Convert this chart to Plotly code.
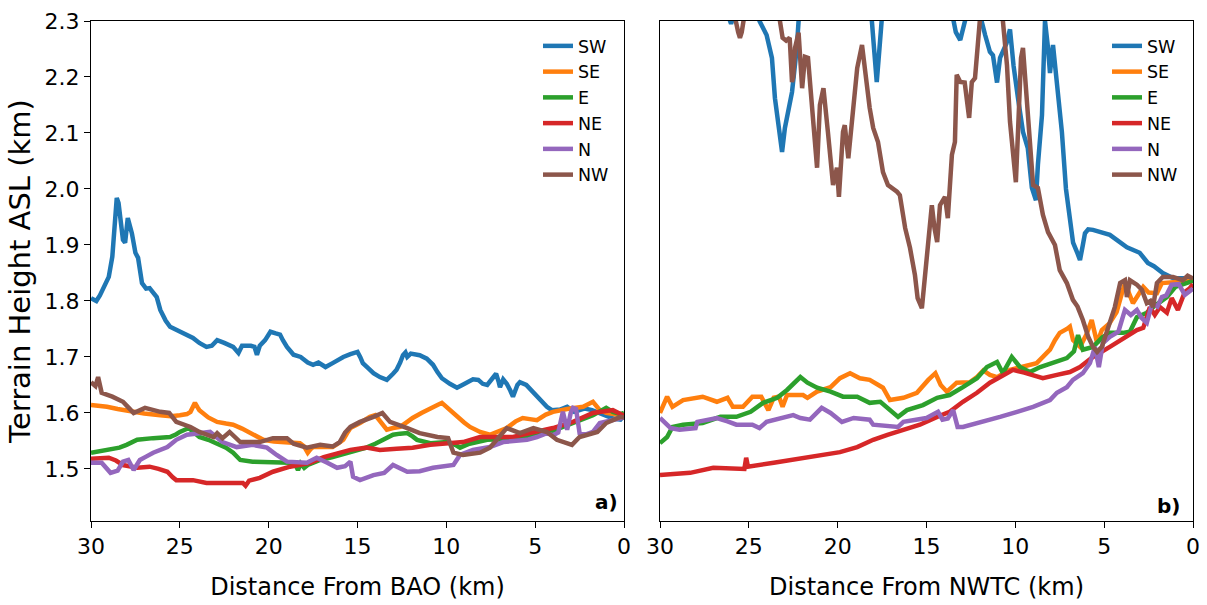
import plotly.graph_objects as go

# ---------------- data (distance km, terrain height km) ----------------
names = ["SW", "SE", "E", "NE", "N", "NW"]
colors = ["#1f77b4", "#ff7f0e", "#2ca02c", "#d62728", "#9467bd", "#8c564b"]
x_ticks = [30, 25, 20, 15, 10, 5, 0]
y_ticks = [1.5, 1.6, 1.7, 1.8, 1.9, 2.0, 2.1, 2.2, 2.3]

bao_sw = [(30,1.805),(29.7,1.80),(29.5,1.81),(29.3,1.825),(29.0,1.843),(28.8,1.879),(28.65,1.95),(28.55,1.984),
          (28.45,1.975),(28.37,1.957),(28.2,1.909),(28.08,1.904),(27.93,1.948),(27.7,1.921),(27.5,1.886),(27.35,1.877),
          (27.13,1.832),(26.9,1.822),(26.7,1.823),(26.5,1.815),(26.3,1.807),(26.1,1.784),(25.8,1.765),(25.55,1.754),
          (25.0,1.745),(24.6,1.74),(24.26,1.734),(23.9,1.725),(23.5,1.718),(23.2,1.72),(22.9,1.73),(22.5,1.725),
          (22.0,1.718),(21.7,1.707),(21.5,1.72),(21.0,1.72),(20.8,1.718),(20.66,1.704),(20.5,1.72),(20.2,1.73),
          (19.9,1.745),(19.6,1.742),(19.36,1.74),(19.2,1.73),(18.97,1.718),(18.6,1.704),(18.2,1.70),(17.8,1.69),
          (17.5,1.686),(17.2,1.69),(16.8,1.682),(16.4,1.689),(16.1,1.695),(15.8,1.70),(15.4,1.705),(15.0,1.709),
          (14.85,1.70),(14.7,1.689),(14.4,1.68),(14.1,1.671),(13.74,1.664),(13.35,1.659),(13.0,1.67),(12.8,1.677),
          (12.6,1.69),(12.44,1.703),(12.3,1.708),(12.2,1.70),(12.0,1.706),(11.5,1.703),(11.1,1.697),(10.75,1.686),
          (10.5,1.673),(10.25,1.662),(9.8,1.652),(9.4,1.645),(9.1,1.65),(8.84,1.655),(8.5,1.66),(8.2,1.659),
          (7.95,1.652),(7.7,1.65),(7.45,1.66),(7.2,1.67),(7.05,1.655),(6.98,1.646),(6.8,1.66),(6.6,1.652),
          (6.4,1.64),(6.25,1.629),(6.0,1.65),(5.86,1.655),(5.5,1.65),(5.2,1.64),(4.9,1.629),(4.6,1.618),
          (4.34,1.611),(4.06,1.605),(3.6,1.606),(3.2,1.611),(2.8,1.602),(2.5,1.605),(2.2,1.608),(1.8,1.605),
          (1.4,1.60),(1.0,1.596),(0.6,1.59),(0.2,1.588),(0,1.595)]
bao_se = [(30,1.614),(29.5,1.613),(29.1,1.611),(28.5,1.607),(27.6,1.602),(27.0,1.599),(26.1,1.596),(25.5,1.594),
          (25.0,1.596),(24.6,1.598),(24.4,1.602),(24.25,1.615),(24.15,1.618),(24.0,1.61),(23.9,1.605),(23.4,1.592),
          (22.9,1.584),(22.4,1.581),(22.0,1.579),(21.5,1.572),(21.05,1.564),(20.6,1.558),(20.3,1.552),(19.7,1.549),
          (19.2,1.548),(18.7,1.547),(18.24,1.546),(18.0,1.54),(17.8,1.529),(17.65,1.535),(17.5,1.539),(17.0,1.539),
          (16.4,1.539),(16.1,1.545),(15.8,1.552),(15.6,1.563),(15.4,1.573),(14.86,1.582),(14.6,1.587),(14.3,1.593),
          (14.0,1.596),(13.8,1.588),(13.57,1.579),(13.35,1.57),(13.0,1.573),(12.6,1.575),(12.2,1.584),(11.9,1.591),
          (11.4,1.6),(10.9,1.609),(10.5,1.614),(10.25,1.618),(9.8,1.605),(9.4,1.593),(9.0,1.583),(8.67,1.575),
          (8.1,1.566),(7.55,1.561),(7.1,1.566),(6.6,1.573),(6.1,1.585),(5.7,1.591),(5.3,1.589),(4.9,1.587),
          (4.4,1.597),(4.0,1.602),(3.2,1.607),(2.3,1.611),(1.75,1.62),(1.36,1.605),(1.0,1.6),(0.6,1.598),
          (0.2,1.596),(0,1.598)]
bao_e = [(30,1.529),(29.4,1.532),(28.9,1.534),(28.4,1.538),(28.0,1.543),(27.4,1.552),(26.5,1.555),(25.55,1.557),
         (25.2,1.562),(25.0,1.566),(24.5,1.573),(24.2,1.565),(23.9,1.557),(23.4,1.552),(22.9,1.546),(22.4,1.538),
         (22.0,1.529),(21.6,1.516),(20.9,1.513),(19.76,1.513),(18.8,1.511),(18.5,1.508),(18.35,1.498),(18.2,1.51),
         (18.0,1.502),(17.8,1.507),(17.1,1.516),(16.4,1.521),(15.4,1.529),(14.5,1.538),(14.0,1.545),(13.57,1.552),
         (13.0,1.561),(12.6,1.563),(12.2,1.564),(11.9,1.558),(11.65,1.552),(10.9,1.546),(9.97,1.548),(9.5,1.543),
         (9.23,1.538),(8.7,1.545),(7.7,1.552),(7.0,1.553),(6.25,1.552),(5.3,1.557),(4.34,1.564),(3.44,1.575),
         (2.5,1.587),(1.75,1.596),(1.0,1.609),(0.63,1.602),(0.2,1.598),(0,1.6)]
bao_ne = [(30,1.518),(29.0,1.52),(28.6,1.515),(28.2,1.507),(27.4,1.502),(26.7,1.504),(26.2,1.5),(25.7,1.495),
          (25.4,1.485),(25.2,1.48),(24.26,1.48),(23.5,1.475),(22.35,1.475),(21.7,1.476),(21.45,1.475),(21.3,1.47),
          (21.1,1.479),(20.5,1.484),(19.76,1.495),(18.8,1.504),(17.67,1.511),(16.9,1.521),(16.2,1.528),(15.4,1.534),
          (14.5,1.538),(13.74,1.534),(12.8,1.536),(11.9,1.538),(10.9,1.543),(9.97,1.546),(9.06,1.548),(8.1,1.557),
          (6.25,1.557),(5.3,1.564),(4.0,1.573),(2.87,1.584),(1.75,1.6),(0.63,1.605),(0,1.595)]
bao_n = [(30,1.511),(29.4,1.511),(28.9,1.493),(28.5,1.497),(28.2,1.513),(27.9,1.516),(27.6,1.498),(27.25,1.516),
         (26.9,1.522),(26.5,1.529),(25.7,1.539),(25.2,1.552),(24.6,1.561),(23.9,1.564),(23.3,1.566),(22.6,1.548),
         (21.8,1.539),(20.9,1.543),(20.1,1.538),(19.55,1.525),(18.97,1.513),(17.85,1.511),(17.3,1.52),(16.7,1.511),
         (16.15,1.502),(15.7,1.505),(15.4,1.513),(15.25,1.486),(14.86,1.48),(14.1,1.489),(13.5,1.493),(13.0,1.507),
         (12.6,1.50),(12.2,1.495),(11.5,1.496),(10.75,1.502),(9.6,1.507),(9.23,1.525),(8.5,1.534),(7.55,1.539),
         (6.8,1.548),(6.1,1.55),(5.46,1.552),(4.9,1.557),(4.34,1.564),(4.0,1.56),(3.7,1.565),(3.44,1.602),
         (3.3,1.585),(3.2,1.57),(3.0,1.6),(2.87,1.609),(2.7,1.607),(2.5,1.564),(2.1,1.562),(1.75,1.566),
         (1.36,1.582),(0.63,1.587),(0,1.592)]
bao_nw = [(30,1.655),(29.75,1.648),(29.6,1.664),(29.4,1.636),(28.8,1.629),(28.2,1.62),(27.9,1.61),(27.6,1.6),
          (26.96,1.609),(26.5,1.605),(26.1,1.602),(25.6,1.6),(25.2,1.584),(24.4,1.575),(23.9,1.566),(23.1,1.557),
          (22.9,1.564),(22.6,1.555),(22.2,1.566),(21.6,1.548),(20.5,1.548),(19.76,1.555),(18.97,1.555),(18.6,1.545),
          (17.85,1.538),(17.1,1.543),(16.4,1.54),(16.0,1.548),(15.7,1.565),(15.4,1.575),(14.86,1.584),(14.1,1.593),
          (13.6,1.6),(13.17,1.584),(12.8,1.579),(12.2,1.573),(11.5,1.564),(10.5,1.557),(9.9,1.555),(9.6,1.529),
          (9.06,1.525),(8.1,1.529),(7.55,1.538),(6.6,1.573),(5.86,1.564),(5.1,1.573),(4.34,1.566),(3.78,1.552),
          (2.93,1.543),(2.5,1.557),(1.5,1.566),(1.0,1.582),(0.2,1.593),(0,1.592)]

nwtc_sw = [(30,2.5),(28,2.42),(26.5,2.34),(26.0,2.295),(25.85,2.31),(25.6,2.36),(25.0,2.4),(24.4,2.3),(24.0,2.275),
           (23.7,2.234),(23.53,2.162),(23.36,2.114),(23.13,2.066),(22.97,2.109),(22.57,2.173),(22.3,2.252),(22.2,2.3),
           (21.5,2.45),(20,2.5),(18.5,2.4),(18.1,2.31),(17.95,2.25),(17.8,2.191),(17.65,2.25),(17.5,2.31),(16.5,2.45),
           (15,2.4),(13.6,2.32),(13.35,2.28),(13.1,2.266),(12.9,2.29),(12.6,2.33),(12.1,2.31),(11.9,2.3),(11.7,2.275),
           (11.43,2.245),(11.26,2.239),(11.03,2.19),(10.86,2.234),(10.5,2.26),(10.3,2.285),(10.1,2.22),(9.85,2.162),
           (9.57,2.102),(9.3,2.073),(9.07,2.002),(8.84,1.98),(8.73,2.043),(8.5,2.132),(8.33,2.3),(8.16,2.252),
           (8.05,2.207),(7.88,2.257),(7.66,2.19),(7.38,2.102),(7.15,2.0),(6.95,1.95),(6.75,1.904),(6.5,1.885),
           (6.36,1.873),(6.2,1.9),(6.08,1.921),(5.9,1.928),(5.63,1.927),(4.68,1.918),(3.72,1.896),(3.0,1.886),
           (2.54,1.868),(2.2,1.862),(1.7,1.85),(1.13,1.841),(0.5,1.84),(0,1.84)]
nwtc_se = [(30,1.6),(29.6,1.629),(29.3,1.611),(28.7,1.623),(27.6,1.629),(26.8,1.62),(26.2,1.627),(25.9,1.611),
           (25.33,1.611),(24.8,1.629),(24.3,1.629),(23.9,1.605),(23.6,1.627),(23.3,1.629),(23.1,1.611),(22.85,1.632),
           (21.95,1.632),(21.7,1.627),(21.16,1.638),(20.4,1.646),(19.87,1.662),(19.3,1.671),(18.75,1.662),(18.2,1.659),
           (17.45,1.645),(17.06,1.623),(16.3,1.627),(15.54,1.636),(14.9,1.659),(14.5,1.671),(14.2,1.65),(13.85,1.638),
           (13.3,1.654),(12.55,1.655),(12.16,1.664),(11.8,1.676),(11.43,1.668),(11.03,1.664),(10.3,1.677),(9.57,1.682),
           (8.8,1.689),(8.45,1.70),(8.05,1.713),(7.77,1.73),(7.5,1.743),(7.1,1.75),(6.93,1.754),(6.75,1.73),
           (6.36,1.718),(6.0,1.74),(5.7,1.766),(5.4,1.725),(5.13,1.748),(4.7,1.76),(4.3,1.78),(4.0,1.814),
           (3.83,1.832),(3.38,1.796),(3.1,1.81),(2.8,1.825),(2.5,1.815),(2.03,1.814),(1.75,1.832),(1.13,1.834),
           (0.5,1.836),(0,1.836)]
nwtc_e = [(30,1.546),(29.6,1.557),(29.3,1.575),(28.7,1.579),(27.6,1.582),(26.6,1.593),(25.7,1.593),(24.9,1.602),
          (24.2,1.618),(23.4,1.627),(22.85,1.641),(22.4,1.655),(22.1,1.664),(21.7,1.654),(21.16,1.645),(20.4,1.638),
          (19.7,1.629),(18.9,1.629),(18.2,1.618),(17.6,1.62),(17.06,1.605),(16.6,1.593),(16.1,1.605),(15.2,1.614),
          (14.4,1.627),(13.7,1.632),(12.95,1.646),(12.16,1.662),(11.6,1.682),(11.03,1.691),(10.7,1.671),(10.2,1.70),
          (9.74,1.682),(9.18,1.673),(8.6,1.682),(7.88,1.689),(7.1,1.698),(6.7,1.71),(6.47,1.739),(6.2,1.713),
          (5.63,1.718),(5.1,1.735),(4.68,1.743),(3.95,1.743),(3.55,1.745),(3.16,1.771),(2.6,1.779),(2.25,1.789),
          (1.47,1.807),(1.0,1.825),(0.5,1.83),(0,1.836)]
nwtc_ne = [(30,1.489),(28.3,1.493),(27.0,1.502),(25.5,1.5),(25.25,1.5),(25.15,1.52),(25.05,1.504),(23.6,1.511),
           (21.7,1.52),(19.87,1.53),(18.9,1.539),(18.0,1.552),(17.2,1.561),(16.3,1.57),(15.37,1.579),(14.4,1.593),
           (13.7,1.602),(12.95,1.62),(12.16,1.636),(11.43,1.654),(11.0,1.662),(10.47,1.671),(10.13,1.677),(9.5,1.672),
           (8.8,1.664),(8.45,1.662),(7.66,1.668),(6.93,1.673),(6.36,1.682),(5.63,1.7),(4.68,1.718),(3.72,1.736),
           (3.16,1.748),(2.8,1.752),(2.43,1.789),(2.15,1.775),(1.86,1.789),(1.47,1.779),(1.2,1.805),(0.85,1.784),
           (0.46,1.816),(0.2,1.822),(0,1.83)]
nwtc_n = [(30,1.591),(29.4,1.573),(28.9,1.57),(28.0,1.573),(27.9,1.584),(26.8,1.591),(26.2,1.585),(25.7,1.579),
          (24.8,1.579),(24.4,1.573),(24.0,1.584),(23.25,1.591),(22.5,1.596),(22.1,1.591),(21.56,1.588),(20.9,1.609),
          (20.4,1.6),(19.76,1.584),(19.1,1.591),(18.2,1.588),(18.0,1.579),(16.6,1.575),(16.3,1.584),(15.0,1.591),
          (14.35,1.602),(14.1,1.588),(13.8,1.59),(13.5,1.605),(13.25,1.575),(12.95,1.575),(11.8,1.584),(10.86,1.593),
          (9.9,1.602),(9.0,1.611),(8.05,1.623),(7.66,1.636),(7.1,1.646),(6.76,1.659),(6.2,1.671),(5.8,1.689),
          (5.52,1.718),(5.3,1.682),(5.07,1.725),(4.68,1.736),(4.2,1.745),(3.83,1.784),(3.5,1.775),(3.16,1.784),
          (2.9,1.77),(2.6,1.761),(2.3,1.796),(2.0,1.79),(1.75,1.807),(1.5,1.81),(1.2,1.829),(0.8,1.83),
          (0.46,1.811),(0.1,1.82),(0,1.822)]
nwtc_nw = [(30,2.55),(28,2.45),(26.5,2.35),(25.8,2.31),(25.6,2.28),(25.5,2.27),(25.4,2.28),(25.2,2.32),(24.5,2.4),
           (23.5,2.35),(23.25,2.3),(23.1,2.27),(22.9,2.265),(22.7,2.27),(22.57,2.191),(22.5,2.2),(22.4,2.252),
           (22.2,2.279),(22.0,2.18),(21.84,2.236),(21.67,2.234),(21.45,2.138),(21.16,2.038),(21.0,2.15),(20.8,2.18),
           (20.55,2.102),(20.26,2.007),(20.04,2.038),(19.93,1.986),(19.7,2.102),(19.6,2.114),(19.4,2.055),(19.2,2.12),
           (18.9,2.216),(18.63,2.257),(18.46,2.209),(18.2,2.145),(18.0,2.109),(17.73,2.084),(17.45,2.03),(17.17,2.007),
           (16.66,1.995),(16.5,1.989),(16.2,1.93),(15.93,1.895),(15.65,1.846),(15.5,1.805),(15.26,1.787),(15.1,1.846),
           (14.9,1.918),(14.7,1.971),(14.55,1.93),(14.4,1.905),(14.24,1.971),(13.96,1.986),(13.8,1.948),(13.57,2.061),
           (13.4,2.084),(13.3,2.204),(13.1,2.191),(12.85,2.19),(12.6,2.127),(12.45,2.191),(12.27,2.198),(12.16,2.252),
           (12.0,2.3),(11.5,2.38),(11.0,2.35),(10.7,2.3),(10.47,2.221),(10.3,2.12),(10.13,2.061),(9.97,2.012),
           (9.85,2.102),(9.68,2.234),(9.57,2.252),(9.35,2.162),(9.18,2.073),(9.0,2.007),(8.73,2.002),(8.45,1.954),
           (8.16,1.923),(7.77,1.9),(7.5,1.855),(7.1,1.832),(6.76,1.802),(6.5,1.79),(6.2,1.766),(5.9,1.736),
           (5.63,1.718),(5.4,1.709),(5.13,1.718),(4.79,1.754),(4.4,1.789),(4.1,1.832),(3.83,1.837),(3.72,1.807),
           (3.55,1.837),(3.16,1.829),(2.88,1.82),(2.6,1.796),(2.4,1.8),(2.25,1.789),(2.03,1.832),(1.7,1.843),
           (1.13,1.843),(0.57,1.837),(0.3,1.845),(0,1.84)]

bao_series = [bao_sw, bao_se, bao_e, bao_ne, bao_n, bao_nw]
nwtc_series = [nwtc_sw, nwtc_se, nwtc_e, nwtc_ne, nwtc_n, nwtc_nw]

FONT = "DejaVu Sans, Verdana, sans-serif"

fig = go.Figure()
for panel, (series, xa, ya, lg) in enumerate([(bao_series, "x", "y", "legend"),
                                               (nwtc_series, "x2", "y2", "legend2")]):
    for name, col, pts in zip(names, colors, series):
        fig.add_trace(go.Scatter(
            x=[p[0] for p in pts], y=[p[1] for p in pts],
            mode="lines", name=name, xaxis=xa, yaxis=ya, legend=lg,
            line=dict(color=col, width=4.5),
        ))

W, H = 1207, 605
L, R, T, B = 91, 14, 21, 84
pw = W - L - R
d1 = [0, (624 - L) / pw]
d2 = [(660 - L) / pw, 1]

xcommon = dict(range=[30, 0], tickvals=x_ticks, ticktext=[str(v) for v in x_ticks],
               ticks="outside", ticklen=6, tickwidth=1, tickcolor="black",
               showline=True, linecolor="black", linewidth=1, mirror=True,
               showgrid=False, zeroline=False,
               tickfont=dict(family=FONT, size=22, color="black"))
ycommon = dict(range=[1.407, 2.3], showline=True, linecolor="black", linewidth=1, mirror=True,
               showgrid=False, zeroline=False)

legcommon = dict(font=dict(family=FONT, size=17.5, color="black"), bgcolor="rgba(0,0,0,0)",
                 borderwidth=0, xanchor="left", yanchor="top", itemwidth=30, tracegroupgap=0)

fig.update_layout(
    width=W, height=H, margin=dict(l=L, r=R, t=T, b=B, autoexpand=False),
    paper_bgcolor="white", plot_bgcolor="white",
    font=dict(family=FONT, color="black"),
    xaxis=dict(domain=d1, anchor="y",
               title=dict(text="Distance From BAO (km)", font=dict(family=FONT, size=24, color="black"), standoff=19),
               **xcommon),
    xaxis2=dict(domain=d2, anchor="y2",
                title=dict(text="Distance From NWTC (km)", font=dict(family=FONT, size=24, color="black"), standoff=19),
                **xcommon),
    yaxis=dict(domain=[0, 1], anchor="x", tickvals=y_ticks, ticktext=[f"{v:.1f}" for v in y_ticks],
               ticks="outside", ticklen=6, tickwidth=1, tickcolor="black",
               tickfont=dict(family=FONT, size=22, color="black"),
               title=dict(text="Terrain Height ASL (km)", font=dict(family=FONT, size=29, color="black"), standoff=5),
               **ycommon),
    yaxis2=dict(domain=[0, 1], anchor="x2", matches="y", showticklabels=False, ticks="", **ycommon),
    legend=dict(x=(538 - L) / pw, y=(521 - 28) / 500, **legcommon),
    legend2=dict(x=(538 - L + 569) / pw, y=(521 - 28) / 500, **legcommon),
    showlegend=True,
    annotations=[
        dict(text="<b>a)</b>", xref="x domain", yref="y domain", x=0.992, y=0.038,
             xanchor="right", yanchor="middle", showarrow=False,
             font=dict(family=FONT, size=20, color="black")),
        dict(text="<b>b)</b>", xref="x2 domain", yref="y2 domain", x=0.98, y=0.03,
             xanchor="right", yanchor="middle", showarrow=False,
             font=dict(family=FONT, size=20, color="black")),
    ],
)

fig.write_html("out.html")
